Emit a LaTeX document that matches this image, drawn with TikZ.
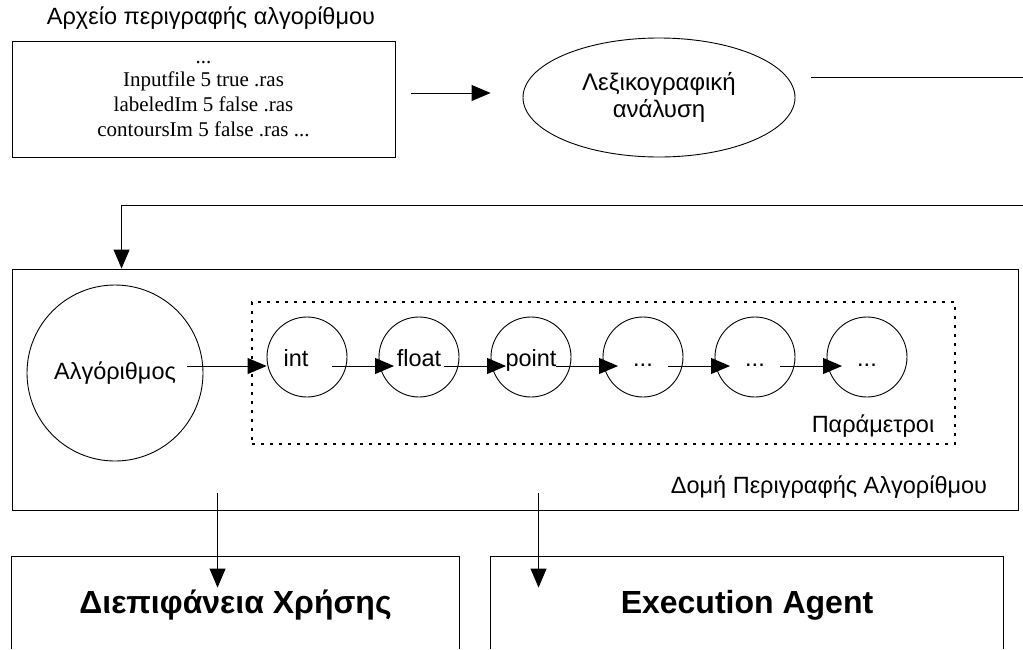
\documentclass[tikz,border=0pt]{standalone}
\usepackage{fontspec}
\setmainfont{Liberation Sans}
\newfontfamily\timesfont{Liberation Serif}
\usetikzlibrary{arrows.meta,shapes.geometric,calc}

\begin{document}
\begin{tikzpicture}[x=1pt,y=-1pt,
  line width=0.9pt,
  arr/.style={-{Triangle[length=19pt,width=16pt]}},
  plain/.style={draw,rectangle,inner sep=0pt},
  param/.style={draw,circle,minimum size=80pt,inner sep=0pt,
                text height=18pt,text depth=0pt,font=\fontsize{23.5}{27}\selectfont},
  lbl/.style={inner sep=0pt,font=\fontsize{23.5}{27}\selectfont},
  big/.style={inner sep=0pt,text height=20pt,text depth=0pt,font=\bfseries\fontsize{32}{36}\selectfont},
]
\useasboundingbox (0,0) rectangle (1023,649);
\clip (0,0) rectangle (1023,649);

% input description file
\node[lbl] (title) at (211,18) {Αρχείο περιγραφής αλγορίθμου};
\node[plain,minimum width=383pt,minimum height=116pt,align=center,
      font=\timesfont\fontsize{21}{25}\selectfont] (file) at (203.5,99)
  {...\\[-2pt] Inputfile 5 true .ras\\ labeledIm 5 false .ras\\ contoursIm 5 false .ras ...};

% lexical analysis
\node[draw,ellipse,minimum width=272pt,minimum height=119pt,inner sep=0pt,align=center,
      font=\fontsize{24}{27}\selectfont] (lex) at (659,97.5) {Λεξικογραφική\\ανάλυση};
\draw[arr] ([xshift=16pt,yshift=6pt]file.east) -- ([xshift=-32pt,yshift=4.5pt]lex.west);

% loop-back connector
\coordinate (outR) at (1023,77);
\coordinate (inR) at (1023,205);
\draw ([xshift=16pt,yshift=20.5pt]lex.east) -- (outR);

% algorithm description structure
\node[plain,minimum width=1006pt,minimum height=241pt] (struct) at (515,389.5) {};
\draw[arr] (inR) -| ([xshift=110pt]struct.north west);

\node[draw,circle,minimum size=176pt,inner sep=0pt,font=\fontsize{23.5}{27}\selectfont] (alg) at (115,373) {Αλγόριθμος};

\node[draw,line width=2.6pt,dash pattern=on 2.6pt off 6.4pt,
      minimum width=703pt,minimum height=142pt,inner sep=0pt] (params) at (603.5,373) {};

\node[param] (p1) at (307,357) {\hspace*{-22pt}int};
\node[param] (p2) at (419,357) {float};
\node[param] (p3) at (531,357) {point};
\node[param] (p4) at (643,357) {...};
\node[param] (p5) at (755,357) {...};
\node[param] (p6) at (867,357) {...};

\draw[arr] ([xshift=72pt,yshift=7pt]alg.center) -- ([yshift=-9pt]p1.west);
\foreach \a/\b in {p1/p2,p2/p3,p3/p4,p4/p5,p5/p6}
  \draw[arr] ([xshift=25pt,yshift=-9pt]\a.center) -- ([xshift=-25pt,yshift=-9pt]\b.center);

\node[lbl] (plabel) at (873,426) {Παράμετροι};
\node[lbl] (slabel) at (829,487) {Δομή Περιγραφής Αλγορίθμου};

% consumers
\node[minimum width=447pt,minimum height=92pt,big] (ui) at (235.5,603) {Διεπιφάνεια Χρήσης};
\node[minimum width=512pt,minimum height=92pt,big] (agent) at (747,603) {Execution Agent};
\draw (ui.south west) -- (ui.north west) -- (ui.north east) -- (ui.south east);
\draw (agent.south west) -- (agent.north west) -- (agent.north east) -- (agent.south east);

\draw[arr] ([xshift=206pt,yshift=17pt]struct.south west) -- ([xshift=206pt,yshift=-31pt]ui.north west);
\draw[arr] ([xshift=527pt,yshift=17pt]struct.south west) -- ([xshift=48pt,yshift=-31pt]agent.north west);
\end{tikzpicture}
\end{document}
